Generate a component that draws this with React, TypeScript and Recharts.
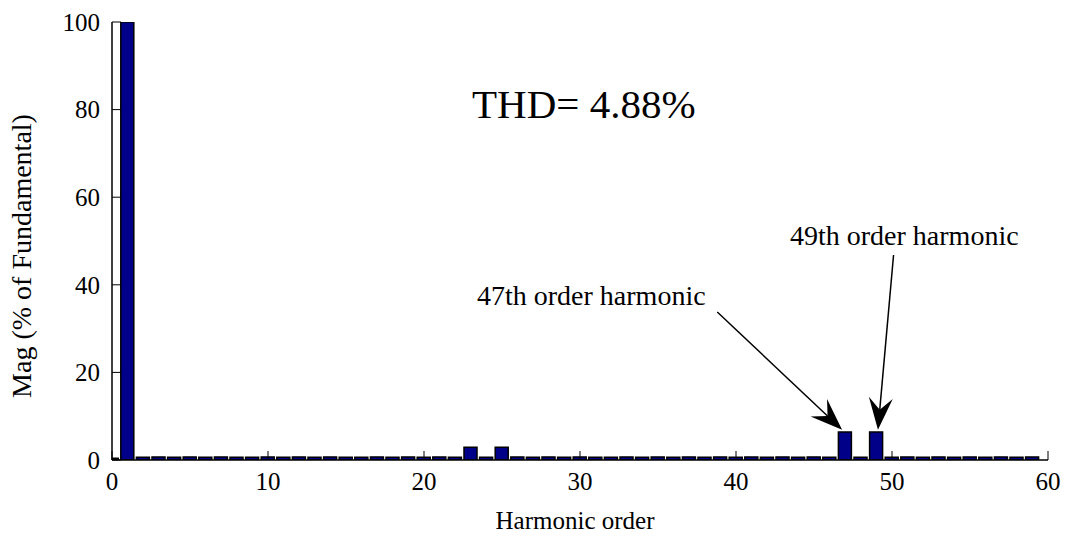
import React from 'react'
import { BarChart, Bar, XAxis, YAxis, ReferenceLine } from 'recharts'

// harmonic spectrum, % of fundamental
const harmonics = Array.from({ length: 60 }, (_, i) => i)
const mags = [
  0.4, 100, 0.6, 0.7, 0.6, 0.7, 0.6, 0.7, 0.6, 0.6,
  0.7, 0.6, 0.7, 0.6, 0.7, 0.6, 0.6, 0.7, 0.6, 0.7,
  0.6, 0.7, 0.6, 2.9, 0.6, 2.9, 0.7, 0.6, 0.7, 0.6,
  0.7, 0.6, 0.6, 0.7, 0.6, 0.7, 0.6, 0.7, 0.6, 0.7,
  0.6, 0.7, 0.6, 0.7, 0.6, 0.7, 0.6, 6.4, 0.6, 6.4,
  0.6, 0.7, 0.6, 0.7, 0.6, 0.7, 0.6, 0.7, 0.6, 0.7,
]
const xTicks = [0, 10, 20, 30, 40, 50, 60]
const yTicks = [0, 20, 40, 60, 80, 100]

// annotation arrows: tail -> tip, in data units
const arrows = [
  { from: { x: 38.8, y: 33.8 }, to: { x: 46.8, y: 6.9 } },
  { from: { x: 50.1, y: 46.8 }, to: { x: 49.1, y: 6.9 } },
]

const data = harmonics.map((h, i) => ({ h, mag: mags[i] }))

const FONT = "'Liberation Serif', 'Times New Roman', serif"
const serif = { fontFamily: FONT }
const TICK_LEN = 9
const TICK_GAP = 12

const BottomTick = (p: any) => (
  <g>
    <line x1={p.x} x2={p.x} y1={p.y - TICK_GAP} y2={p.y - TICK_GAP - TICK_LEN} stroke="#000" />
    <text x={p.x} y={p.y} dy="0.71em" textAnchor="middle" fontSize={25} style={serif} fill="#000">
      {p.payload.value}
    </text>
  </g>
)

const LeftTick = (p: any) => (
  <g>
    <line x1={p.x + TICK_GAP} x2={p.x + TICK_GAP + TICK_LEN} y1={p.y} y2={p.y} stroke="#000" />
    <text x={p.x} y={p.y} dy="0.35em" textAnchor="end" fontSize={25} style={serif} fill="#000">
      {p.payload.value}
    </text>
  </g>
)

const TopTick = (p: any) => (
  <line x1={p.x} x2={p.x} y1={p.y} y2={p.y + TICK_LEN} stroke="#000" />
)

const RightTick = (p: any) => (
  <line x1={p.x} x2={p.x - TICK_LEN} y1={p.y} y2={p.y} stroke="#000" />
)

const Arrow = (p: any) => {
  const { x1, y1, x2, y2 } = p
  const dx = x1 - x2
  const dy = y1 - y2
  const len = Math.hypot(dx, dy) || 1
  const ux = dx / len
  const uy = dy / len
  const nx = -uy
  const ny = ux
  const L = 32
  const W = 12
  const N = 20
  const pts = [
    [x2, y2],
    [x2 + ux * L + nx * W, y2 + uy * L + ny * W],
    [x2 + ux * N, y2 + uy * N],
    [x2 + ux * L - nx * W, y2 + uy * L - ny * W],
  ]
  return (
    <g>
      <line x1={x1} y1={y1} x2={x2 + ux * N} y2={y2 + uy * N} stroke="#000" strokeWidth={1.5} />
      <polygon points={pts.map((q) => q.join(',')).join(' ')} fill="#000" />
    </g>
  )
}

export default function App() {
  return (
    <div style={{ position: 'absolute', left: 0, top: 0, width: 1073, height: 537, background: '#fff', fontFamily: FONT }}>
      <BarChart
        width={1073}
        height={537}
        data={data}
        margin={{ top: 22, right: 25, bottom: 37, left: 12 }}
      >
        <XAxis
          dataKey="h"
          type="number"
          domain={[0, 60]}
          ticks={xTicks}
          allowDataOverflow
          height={40}
          tickSize={0}
          tickMargin={TICK_GAP}
          tickLine={false}
          axisLine={{ stroke: '#000', strokeWidth: 1.5 }}
          tick={BottomTick}
          interval={0}
        />
        <XAxis
          xAxisId="top"
          orientation="top"
          type="number"
          domain={[0, 60]}
          ticks={xTicks}
          allowDataOverflow
          height={0}
          tickSize={0}
          tickMargin={0}
          tickLine={false}
          axisLine={{ stroke: '#000', strokeWidth: 1.5 }}
          tick={TopTick}
          interval={0}
        />
        <YAxis
          type="number"
          domain={[0, 100]}
          ticks={yTicks}
          allowDataOverflow
          width={100}
          tickSize={0}
          tickMargin={TICK_GAP}
          tickLine={false}
          axisLine={{ stroke: '#000', strokeWidth: 1.5 }}
          tick={LeftTick}
          interval={0}
        />
        <YAxis
          yAxisId="right"
          orientation="right"
          type="number"
          domain={[0, 100]}
          ticks={yTicks}
          allowDataOverflow
          width={0}
          tickSize={0}
          tickMargin={0}
          tickLine={false}
          axisLine={{ stroke: '#000', strokeWidth: 1.5 }}
          tick={RightTick}
          interval={0}
        />
        <Bar
          dataKey="mag"
          fill="#000088"
          stroke="#000"
          strokeWidth={1.5}
          barSize={13}
          isAnimationActive={false}
        />
        {arrows.map((a, i) => (
          <ReferenceLine
            key={i}
            segment={[a.from, a.to]}
            shape={Arrow}
            ifOverflow="visible"
          />
        ))}
      </BarChart>
      <svg
        width={1073}
        height={537}
        style={{ position: 'absolute', left: 0, top: 0, pointerEvents: 'none', fontFamily: FONT }}
        fill="#000"
      >
        <text x={472} y={118} fontSize={41} style={serif}>
          THD= 4.88%
        </text>
        <text x={477} y={305} fontSize={28} style={serif}>
          47th order harmonic
        </text>
        <text x={790} y={245} fontSize={28} style={serif}>
          49th order harmonic
        </text>
        <text x={575} y={529} fontSize={25} style={serif} textAnchor="middle">
          Harmonic order
        </text>
        <text
          x={0}
          y={0}
          fontSize={28}
          style={serif}
          textAnchor="middle"
          transform="translate(31 256) rotate(-90)"
        >
          Mag (% of Fundamental)
        </text>
      </svg>
    </div>
  )
}
